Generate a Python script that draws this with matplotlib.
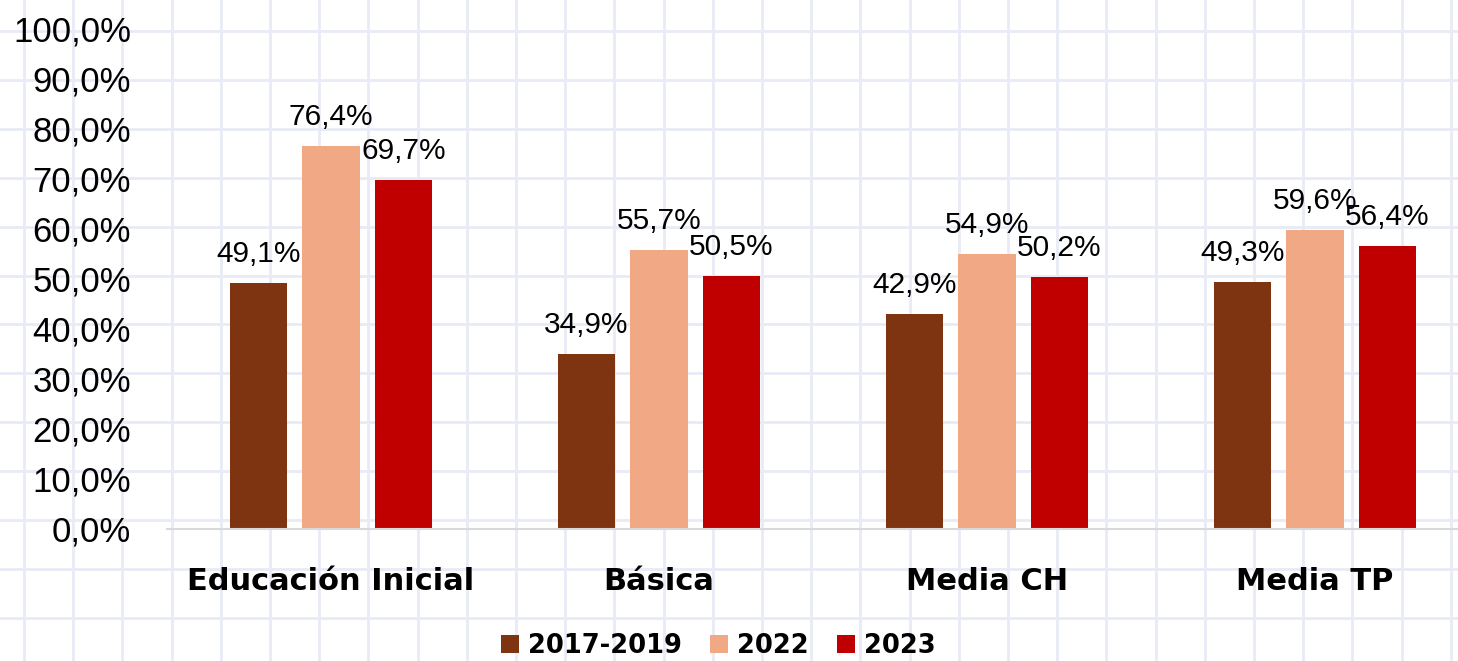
import numpy as np
import matplotlib.pyplot as plt
from matplotlib.patches import Patch

categories = ["Educación Inicial", "Básica", "Media CH", "Media TP"]
series = ["2017-2019", "2022", "2023"]
v_2017_2019 = [49.1, 34.9, 42.9, 49.3]
v_2022 = [76.4, 55.7, 54.9, 59.6]
v_2023 = [69.7, 50.5, 50.2, 56.4]
values = [v_2017_2019, v_2022, v_2023]
colors = ["#7F3411", "#F1A985", "#C00000"]
yticks = np.arange(0, 101, 10)

W, H = 1458, 661
fig = plt.figure(figsize=(W / 100, H / 100), dpi=100)
fig.patch.set_facecolor("white")

# notebook-style background grid
bg = fig.add_axes([0, 0, 1, 1], zorder=0)
bg.set_xlim(0, W); bg.set_ylim(H, 0); bg.axis("off")
for k in range(31):
    bg.axvline(24 + 49.2 * k, color="#E8EAF5", lw=2.0)
for k in range(14):
    bg.axhline(31 + 48.9 * k, color="#E8EAF5", lw=2.0)

# main chart
left, right, y0, y100 = 167, W, 529, 28
ax = fig.add_axes([left / W, (H - y0) / H, (right - left) / W, (y0 - y100) / H], zorder=1)
ax.patch.set_alpha(0)
x = np.arange(len(categories))
bw, off = 0.174, 0.221
for i, (vals, col) in enumerate(zip(values, colors)):
    xs = x + (i - 1) * off
    ax.bar(xs, vals, width=bw, color=col, zorder=2)
    for xi, v in zip(xs, vals):
        ax.annotate(f"{v:.1f}%".replace(".", ","), (xi, v), xytext=(0, 11),
                    textcoords="offset points", ha="center", va="bottom",
                    fontsize=21.5, family="Liberation Sans", color="black")

ax.set_ylim(0, 100)
ax.set_xlim(-0.5, -0.5 + (right - left) / 328)
ax.set_yticks(yticks)
ax.set_yticklabels([f"{t:.1f}%".replace(".", ",") for t in yticks],
                   fontsize=25, family="Liberation Sans")
ax.tick_params(axis="y", length=0, pad=26)
ax.set_xticks(x)
ax.set_xticklabels(categories, fontsize=22, fontweight="bold", family="DejaVu Sans")
ax.tick_params(axis="x", length=0, pad=27)
for s in ["top", "right", "left"]:
    ax.spines[s].set_visible(False)
ax.spines["bottom"].set_color("#D9D9D9")
ax.spines["bottom"].set_linewidth(1.5)

handles = [Patch(facecolor=c, label=s) for c, s in zip(colors, series)]
fig.legend(handles=handles, loc="lower center", bbox_to_anchor=(718 / W, -0.032), ncol=3,
           frameon=False, handlelength=0.7, handleheight=0.7, handletextpad=0.35,
           columnspacing=1.1, prop={"family": "DejaVu Sans", "weight": "bold", "size": 18.5})

fig.savefig("out.png", dpi=100)
